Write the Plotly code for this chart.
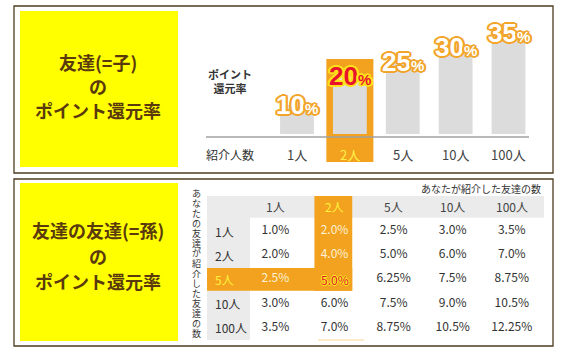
import plotly.graph_objects as go

# ---------------- data ----------------
people = ["1人", "2人", "5人", "10人", "100人"]
child_rates = [10, 20, 25, 30, 35]          # 友達(=子) のポイント還元率 (%)
highlight_idx = 1                            # 2人

grand_cols = ["1人", "2人", "5人", "10人", "100人"]   # あなたが紹介した友達の数
grand_rows = ["1人", "2人", "5人", "10人", "100人"]   # あなたの友達が紹介した友達の数
grand_r1 = [1.0, 2.0, 2.5, 3.0, 3.5]
grand_r2 = [2.0, 4.0, 5.0, 6.0, 7.0]
grand_r3 = [2.5, 5.0, 6.25, 7.5, 8.75]
grand_r4 = [3.0, 6.0, 7.5, 9.0, 10.5]
grand_r5 = [3.5, 7.0, 8.75, 10.5, 12.25]
grand_table = [grand_r1, grand_r2, grand_r3, grand_r4, grand_r5]
hl_col = 1
hl_row = 2

W, H = 576, 360
JP = "Noto Sans CJK JP"
ORANGE = "#f2a21e"
BROWN_TXT = "#5a3a0c"


def px(x):
    return x / W


def py(y):
    return 1 - y / H


def fmt(v):
    s = f"{v:.2f}"
    if s.endswith("0"):
        s = s[:-1]
    return s + "%"


fig = go.Figure()

# ---------- top chart: bars ----------
fig.add_trace(go.Bar(
    x=people, y=child_rates, width=0.64,
    marker=dict(color="#dcdcdc", line=dict(width=0)),
    xaxis="x", yaxis="y", hoverinfo="skip", showlegend=False,
))

# ---------- bottom table: body text ----------
xs, ys, texts, colors = [], [], [], []
for r, row in enumerate(grand_table):
    for c, v in enumerate(row):
        if r == hl_row and c == hl_col:
            continue
        xs.append(c)
        ys.append(r)
        texts.append(fmt(v))
        if (c == hl_col and r < hl_row) or (r == hl_row and c < hl_col):
            colors.append("#fdf1d6")
        else:
            colors.append("#333333")
fig.add_trace(go.Scatter(
    x=xs, y=ys, text=texts, mode="text",
    textfont=dict(family=JP, size=12, color=colors),
    xaxis="x2", yaxis="y2", hoverinfo="skip", showlegend=False,
))

shapes = []
ann = []

# ---------- panel frames & yellow boxes ----------
for (x0, y0, x1, y1) in [(14, 6, 553, 173), (14, 179, 553, 346)]:
    shapes.append(dict(type="rect", xref="paper", yref="paper",
                       x0=px(x0), x1=px(x1), y0=py(y1), y1=py(y0),
                       line=dict(color="#4d3b1f", width=1.3), fillcolor="rgba(0,0,0,0)",
                       layer="below"))
for (x0, y0, x1, y1) in [(20, 11, 178, 167), (20, 183, 178, 341)]:
    shapes.append(dict(type="rect", xref="paper", yref="paper",
                       x0=px(x0), x1=px(x1), y0=py(y1), y1=py(y0),
                       line=dict(width=0), fillcolor="#ffff00", layer="below"))

for txt, y in [("友達(=子)", 62), ("の", 86), ("ポイント還元率", 110),
               ("友達の友達(=孫)", 230), ("の", 256), ("ポイント還元率", 281)]:
    ann.append(dict(xref="paper", yref="paper", x=px(98), y=py(y), text=f"<b>{txt}</b>",
                    showarrow=False, xanchor="center", yanchor="middle",
                    font=dict(family=JP, size=18, color=BROWN_TXT)))

# ---------- top chart decorations ----------
shapes.append(dict(type="rect", xref="x", yref="paper",
                   x0=highlight_idx - 0.445, x1=highlight_idx + 0.445,
                   y0=py(162), y1=py(59), line=dict(width=0), fillcolor=ORANGE, layer="below"))
shapes.append(dict(type="line", xref="paper", yref="paper",
                   x0=px(206), x1=px(529), y0=py(137), y1=py(137),
                   line=dict(color="#a0a0a0", width=1.5), layer="below"))

ann.append(dict(xref="paper", yref="paper", x=px(230), y=py(81),
                text="<b>ポイント</b><br><b>還元率</b>", showarrow=False,
                xanchor="center", yanchor="middle",
                font=dict(family=JP, size=11, color="#333333")))
ann.append(dict(xref="paper", yref="paper", x=px(230), y=py(154),
                text="紹介人数", showarrow=False, xanchor="center", yanchor="middle",
                font=dict(family=JP, size=12, color="#333333")))

offsets = [(2, 0), (-2, 0), (0, 2), (0, -2), (1, 1), (-1, -1), (1, -1), (-1, 1),
           (2, 1), (-2, 1), (2, -1), (-2, -1)]
outline_o = ",".join(f"{dx}px {dy}px 0 #f2a52a" for dx, dy in offsets)
outline_y = ",".join(f"{dx}px {dy}px 0 #ffe21a" for dx, dy in offsets)

for i, (p, v) in enumerate(zip(people, child_rates)):
    hl = i == highlight_idx
    ann.append(dict(xref="x", yref="y", x=p, y=v,
                    text=f"<b>{v}<span style='font-size:15px'>%</span></b>",
                    showarrow=False, xanchor="center", yanchor="middle",
                    font=dict(family="Liberation Sans, Arial", size=26,
                              color="#e8142c" if hl else "#ffffff",
                              shadow=outline_y if hl else outline_o)))
    ann.append(dict(xref="x", yref="paper", x=p, y=py(154), text=p, showarrow=False,
                    xanchor="center", yanchor="middle",
                    font=dict(family=JP, size=13, color="#fff04a" if hl else "#444444")))

# ---------- bottom table decorations ----------
shapes.append(dict(type="rect", xref="x2", yref="y2", x0=-1.157, x1=4.545, y0=-1.45, y1=-0.55,
                   line=dict(width=0), fillcolor="#ebebeb", layer="below"))
shapes.append(dict(type="rect", xref="x2", yref="y2", x0=-1.157, x1=-0.43, y0=-1.45, y1=4.5,
                   line=dict(width=0), fillcolor="#ebebeb", layer="below"))
shapes.append(dict(type="rect", xref="x2", yref="y2", x0=hl_col - 0.34, x1=hl_col + 0.3,
                   y0=-1.45, y1=hl_row + 0.47, line=dict(width=0), fillcolor=ORANGE, layer="below"))
shapes.append(dict(type="rect", xref="x2", yref="y2", x0=-1.157, x1=hl_col + 0.3,
                   y0=hl_row - 0.47, y1=hl_row + 0.47, line=dict(width=0), fillcolor=ORANGE,
                   layer="below"))
shapes.append(dict(type="line", xref="paper", yref="paper", x0=px(318), x1=px(364),
                   y0=py(340), y1=py(340), line=dict(color="#f8d496", width=1), layer="below"))

for c, name in enumerate(grand_cols):
    ann.append(dict(xref="x2", yref="y2", x=c, y=-1, text=name, showarrow=False,
                    font=dict(family=JP, size=12, color="#fff23c" if c == hl_col else "#444444")))
for r, name in enumerate(grand_rows):
    ann.append(dict(xref="x2", yref="y2", x=-1.06, y=r, text=name, showarrow=False,
                    xanchor="left",
                    font=dict(family=JP, size=12, color="#fff23c" if r == hl_row else "#333333")))
ann.append(dict(xref="x2", yref="y2", x=hl_col, y=hl_row, text=fmt(grand_table[hl_row][hl_col]),
                showarrow=False,
                font=dict(family=JP, size=12, color="#e0102a",
                          shadow="1px 0 0 #ffee22,-1px 0 0 #ffee22,0 1px 0 #ffee22,0 -1px 0 #ffee22")))

vert = "あなたの友達が紹介した友達の数"
for k, ch in enumerate(vert):
    ann.append(dict(xref="paper", yref="paper", x=px(196), y=py(193 + k * 10), text=ch,
                    showarrow=False, xanchor="center", yanchor="middle", borderpad=0,
                    font=dict(family=JP, size=9, color="#333333")))
ann.append(dict(xref="paper", yref="paper", x=px(543), y=py(188), text="あなたが紹介した友達の数",
                showarrow=False, xanchor="right", yanchor="middle",
                font=dict(family=JP, size=10, color="#333333")))

# ---------- axes ----------
bx_scale = 52.875
bx0 = -297 / bx_scale
by_scale = 2.89
by0 = -(H - 134) / by_scale

tx_scale = 59.1
tx0 = -275.4 / tx_scale
ty_scale = 24.2

hidden = dict(visible=False, showgrid=False, zeroline=False, fixedrange=True)
fig.update_layout(
    width=W, height=H,
    margin=dict(l=0, r=0, t=0, b=0),
    paper_bgcolor="#ffffff", plot_bgcolor="rgba(0,0,0,0)",
    xaxis=dict(domain=[0, 1], type="category", range=[bx0, bx0 + W / bx_scale], anchor="y", **hidden),
    yaxis=dict(domain=[0, 1], range=[by0, by0 + H / by_scale], anchor="x", **hidden),
    xaxis2=dict(domain=[0, 1], range=[tx0, tx0 + W / tx_scale], anchor="y2", **hidden),
    yaxis2=dict(domain=[0, 1], range=[(H - 231) / ty_scale, -231 / ty_scale], anchor="x2", **hidden),
    shapes=shapes, annotations=ann, showlegend=False,
)

fig.write_html("out.html", config={"displayModeBar": False},
               post_script="document.body.style.margin='0';document.body.style.overflow='hidden';")
